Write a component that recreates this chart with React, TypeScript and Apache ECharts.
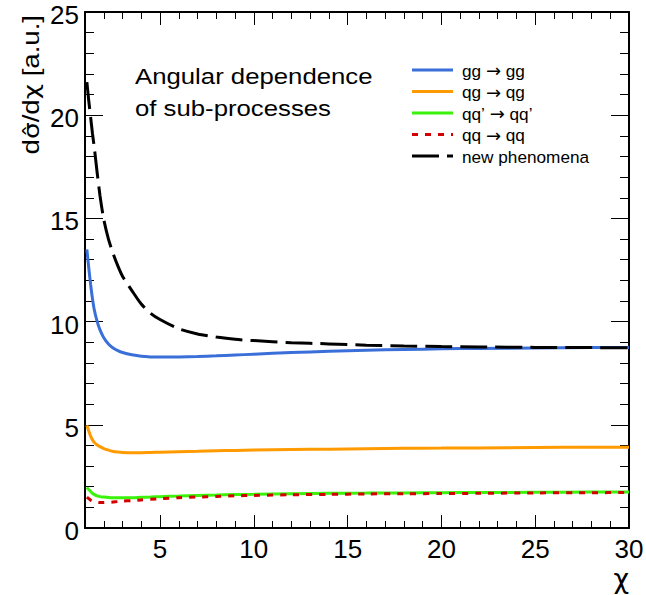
import React, { useEffect, useRef } from "react";
import * as echarts from "echarts";

// chi sample points (x) shared by all curves
const chi = [1.1, 1.2, 1.3, 1.4, 1.5, 1.65, 1.8, 2, 2.25, 2.5, 2.75, 3, 3.5, 4, 4.5, 5, 6, 7, 8, 9, 10, 12, 14, 16, 18, 20, 22, 25, 28, 30];

const ggToGg = [13.5, 12.6, 11.8, 11.1, 10.55, 10.0, 9.6, 9.22, 8.92, 8.72, 8.59, 8.5, 8.39, 8.32, 8.29, 8.28, 8.29, 8.31, 8.34, 8.38, 8.42, 8.5, 8.56, 8.61, 8.65, 8.68, 8.7, 8.72, 8.74, 8.75];
const qgToQg = [4.98, 4.7, 4.45, 4.27, 4.14, 4.02, 3.94, 3.85, 3.77, 3.71, 3.68, 3.66, 3.65, 3.65, 3.66, 3.67, 3.7, 3.72, 3.74, 3.76, 3.78, 3.8, 3.82, 3.84, 3.86, 3.87, 3.88, 3.9, 3.91, 3.91];
const qqpToQqp = [1.97, 1.86, 1.77, 1.68, 1.62, 1.56, 1.52, 1.5, 1.48, 1.47, 1.47, 1.47, 1.47, 1.49, 1.5, 1.52, 1.55, 1.58, 1.6, 1.62, 1.63, 1.66, 1.68, 1.69, 1.7, 1.71, 1.72, 1.73, 1.74, 1.74];
const qqToQq = [1.5, 1.42, 1.35, 1.3, 1.27, 1.25, 1.23, 1.23, 1.24, 1.26, 1.28, 1.3, 1.33, 1.36, 1.39, 1.42, 1.47, 1.5, 1.53, 1.56, 1.58, 1.61, 1.63, 1.65, 1.66, 1.67, 1.68, 1.7, 1.71, 1.72];
const newPhenomena = [21.6, 20.7, 19.9, 19.1, 18.4, 17.2, 16.1, 14.95, 14.0, 13.3, 12.7, 12.2, 11.5, 10.85, 10.4, 10.1, 9.65, 9.4, 9.25, 9.14, 9.08, 8.98, 8.92, 8.86, 8.82, 8.79, 8.77, 8.75, 8.74, 8.73];

const seriesNames = ["gg \u2192 gg", "qg \u2192 qg", "qq\u2019 \u2192 qq\u2019", "qq \u2192 qq", "new phenomena"];
const seriesValues = [ggToGg, qgToQg, qqpToQqp, qqToQq, newPhenomena];
const seriesColors = ["#3a6fd9", "#ff9a00", "#3af20a", "#d40000", "#000000"];
const seriesDash: (string | number[])[] = ["solid", "solid", "solid", [6, 7], [27, 8]];

const xMajorTicks = [5, 10, 15, 20, 25, 30];
const xMinorTicks = [2, 3, 4, 6, 7, 8, 9, 11, 12, 13, 14, 16, 17, 18, 19, 21, 22, 23, 24, 26, 27, 28, 29];

const yTitleParts = ["d", "\u03C3\u0302", "/d", "\u03C7", " [a.u.]"];
const xTitle = "\u03C7";
const plotTitle = ["Angular dependence", "of sub-processes"];

const FONT = "'Liberation Sans', Arial, Helvetica, sans-serif";
const GREEK = "'DejaVu Sans', 'Liberation Sans', sans-serif";

export default function App() {
  const ref = useRef<HTMLDivElement>(null);
  useEffect(() => {
    if (!ref.current) return;
    const chart = echarts.init(ref.current, undefined, { renderer: "svg" });

    const frame = { show: true, onZero: false, lineStyle: { color: "#000", width: 2 } };
    const noLine = { show: false, onZero: false };
    const tickStyle = { color: "#000", width: 1 };

    const xCommon = { type: "value", min: 1, max: 30, splitLine: { show: false } };
    const xAxes = [
      { ...xCommon, position: "bottom", axisLine: frame,
        axisTick: { show: true, inside: true, length: 13, customValues: xMajorTicks, lineStyle: tickStyle },
        axisLabel: { show: true, customValues: xMajorTicks, fontSize: 26, lineHeight: 22, color: "#000", fontFamily: FONT, margin: 10 } },
      { ...xCommon, position: "bottom", axisLine: noLine,
        axisTick: { show: true, inside: true, length: 7, customValues: xMinorTicks, lineStyle: tickStyle },
        axisLabel: { show: false } },
      { ...xCommon, position: "top", axisLine: frame,
        axisTick: { show: true, inside: true, length: 13, customValues: xMajorTicks, lineStyle: tickStyle },
        axisLabel: { show: false } },
      { ...xCommon, position: "top", axisLine: noLine,
        axisTick: { show: true, inside: true, length: 7, customValues: xMinorTicks, lineStyle: tickStyle },
        axisLabel: { show: false } },
    ];
    const yCommon = { type: "value", min: 0, max: 25, interval: 5, splitLine: { show: false } };
    const yAxes = [
      { ...yCommon, position: "left", axisLine: frame,
        axisTick: { show: true, inside: true, length: 18, lineStyle: tickStyle },
        minorTick: { show: true, splitNumber: 5, length: 9, lineStyle: tickStyle },
        axisLabel: { show: true, fontSize: 26, lineHeight: 6, verticalAlign: "top", color: "#000", fontFamily: FONT, margin: 6 } },
      { ...yCommon, position: "right", axisLine: frame,
        axisTick: { show: true, inside: true, length: 18, lineStyle: tickStyle },
        minorTick: { show: true, splitNumber: 5, length: 9, lineStyle: tickStyle },
        axisLabel: { show: false } },
    ];

    const series = seriesNames.map((name, k) => ({
      name,
      type: "line",
      xAxisIndex: 0,
      yAxisIndex: 0,
      data: chi.map((c, i) => [c, seriesValues[k][i]]),
      symbol: "none",
      showSymbol: false,
      smooth: 0.25,
      clip: true,
      lineStyle: { color: seriesColors[k], width: 3, type: seriesDash[k] },
      z: k === 4 ? 3 : 2,
    }));

    // legend drawn as graphic elements
    const legendX = 412;
    const legendLineW = 41;
    const legendY0 = 70;
    const legendStep = 21.5;
    const legendEls: any[] = [];
    seriesNames.forEach((name, k) => {
      const y = legendY0 + k * legendStep;
      const parts = name.split("\u2192");
      const rich = parts.length === 2
        ? `{t|${parts[0]}}{a|\u2192}{t|${parts[1]}}`
        : `{t|${name}}`;
      legendEls.push({
        type: "line",
        shape: { x1: legendX, y1: y, x2: legendX + legendLineW, y2: y },
        style: { stroke: seriesColors[k], lineWidth: 3, lineDash: Array.isArray(seriesDash[k]) ? seriesDash[k] : null },
        silent: true,
      });
      legendEls.push({
        type: "text",
        x: 462,
        y: y + 0.5,
        style: {
          text: rich,
          align: "left",
          verticalAlign: "middle",
          rich: {
            t: { fontSize: 17.2, fontFamily: FONT, fill: "#000" },
            a: { fontSize: 18, fontFamily: GREEK, fill: "#000" },
          },
        },
        silent: true,
      });
    });

    chart.setOption({
      animation: false,
      backgroundColor: "#fff",
      grid: { left: 85, right: 17, top: 12, bottom: 67, containLabel: false, outerBoundsMode: "none" },
      xAxis: xAxes,
      yAxis: yAxes,
      series,
      graphic: [
        {
          type: "text",
          x: 31,
          y: 15,
          rotation: Math.PI / 2,
          scaleX: 1.2,
          style: {
            text: `{t|${yTitleParts[0]}}{g|${yTitleParts[1]}}{t|${yTitleParts[2]}}{g|${yTitleParts[3]}}{t|${yTitleParts[4]}}`,
            align: "right",
            verticalAlign: "middle",
            rich: {
              t: { fontSize: 23, fontFamily: FONT, fill: "#000" },
              g: { fontSize: 22, fontFamily: GREEK, fill: "#000" },
            },
          },
        },
        {
          type: "text",
          x: 629,
          y: 578,
          style: { text: xTitle, fontSize: 27, lineHeight: 20, fontFamily: GREEK, fill: "#000", align: "right", verticalAlign: "middle" },
        },
        {
          type: "text",
          x: 135,
          y: 76,
          scaleX: 1.17,
          style: { text: plotTitle[0], fontSize: 22, fontFamily: FONT, fill: "#000", align: "left", verticalAlign: "middle" },
        },
        {
          type: "text",
          x: 135,
          y: 108,
          scaleX: 1.17,
          style: { text: plotTitle[1], fontSize: 22, fontFamily: FONT, fill: "#000", align: "left", verticalAlign: "middle" },
        },
        ...legendEls,
      ],
    });
    return () => chart.dispose();
  }, []);
  return <div ref={ref} style={{ position: "fixed", left: 0, top: 0, width: 646, height: 595 }} />;
}
